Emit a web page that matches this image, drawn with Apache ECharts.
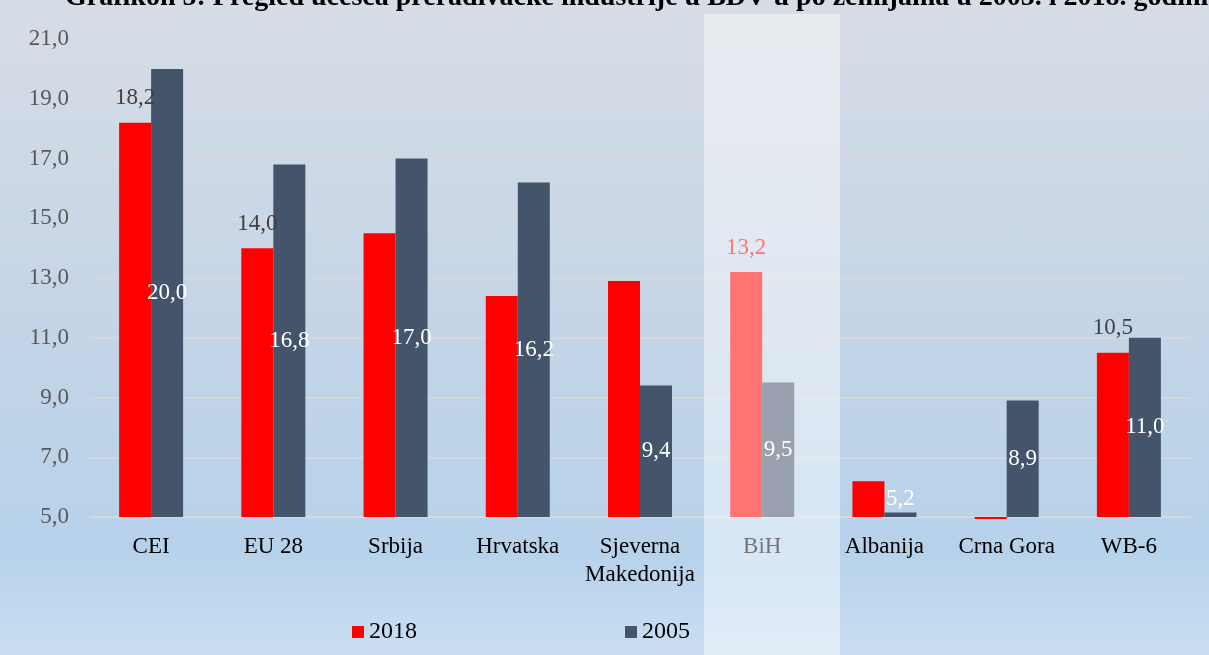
<!DOCTYPE html>
<html>
<head>
<meta charset="utf-8">
<script src="https://cdn.jsdelivr.net/npm/echarts@6/dist/echarts.min.js"></script>
<style>
  html, body { margin: 0; padding: 0; background: #fff; }
  #chart {
    width: 1209px; height: 655px;
    background: linear-gradient(to bottom, #d7dde6 0%, #c6d5e6 45%, #b6d2eb 84%, #cadef2 100%);
  }
</style>
</head>
<body>
<div id="chart"></div>
<script>
var titleText = 'Grafikon 5: Pregled učešća prerađivačke industrije u BDV-u po zemljama u 2005. i 2018. godini';
var categories = ['CEI', 'EU 28', 'Srbija', 'Hrvatska', 'Sjeverna\nMakedonija', 'BiH', 'Albanija', 'Crna Gora', 'WB-6'];
var values2018 = [18.2, 14.0, 14.5, 12.4, 12.9, 13.2, 6.2, 4.93, 10.5];
var values2005 = [20.0, 16.8, 17.0, 16.2, 9.4, 9.5, 5.15, 8.9, 11.0];
// which 2018 values carry a label above the bar
var labelled2018 = ['CEI', 'EU 28', 'BiH', 'WB-6'];

var serif = '"Liberation Serif", "Times New Roman", serif';

function fmt(v) {
    return v.toFixed(1).replace('.', ',');
}

var data2018 = values2018.map(function (v, i) {
    var cat = categories[i];
    var item = { value: v };
    if (labelled2018.indexOf(cat) >= 0) {
        item.label = {
            show: true,
            color: cat === 'BiH' ? '#ff0000' : '#404040'
        };
    }
    return item;
});

var data2005 = values2005.map(function (v, i) {
    var item = { value: v };
    if (categories[i] === 'Albanija') {
        item.label = { position: 'top', distance: 2 };
    }
    return item;
});

var chart = echarts.init(document.getElementById('chart'));
chart.setOption({
    backgroundColor: 'transparent',
    animation: false,
    textStyle: { fontFamily: serif },
    grid: { left: 90, right: 19, top: 39, bottom: 138 },
    legend: {
        left: 347,
        top: 615,
        itemWidth: 12,
        itemHeight: 12,
        itemGap: 208,
        icon: 'rect',
        textStyle: { fontFamily: serif, fontSize: 24, color: '#000' },
        data: ['2018', '2005']
    },
    xAxis: {
        type: 'category',
        data: categories,
        axisLine: { show: true, lineStyle: { color: '#d9d9d9', width: 1.5 } },
        axisTick: { show: false },
        axisLabel: {
            interval: 0,
            margin: 16,
            fontFamily: serif,
            fontSize: 23,
            lineHeight: 28,
            color: '#000'
        }
    },
    yAxis: {
        type: 'value',
        min: 5,
        max: 21,
        interval: 2,
        startValue: 5,
        axisLine: { show: false },
        axisTick: { show: false },
        splitLine: { lineStyle: { color: '#d9d9d9', width: 1.5 } },
        axisLabel: {
            margin: 21,
            fontFamily: serif,
            fontSize: 23,
            color: '#595959',
            formatter: function (v) { return fmt(v); }
        }
    },
    series: [
        {
            name: '2018',
            type: 'bar',
            barWidth: 32,
            barGap: '0%',
            clip: false,
            itemStyle: { color: '#ff0000' },
            label: {
                show: false,
                position: 'top',
                distance: 13,
                fontFamily: serif,
                fontSize: 23,
                formatter: function (p) { return fmt(p.value); }
            },
            data: data2018
        },
        {
            name: '2005',
            type: 'bar',
            barWidth: 32,
            barGap: '0%',
            itemStyle: { color: '#44546a' },
            label: {
                show: true,
                position: 'inside',
                color: '#fff',
                fontFamily: serif,
                fontSize: 23,
                formatter: function (p) { return fmt(p.value); }
            },
            data: data2005
        }
    ],
    graphic: [
        {
            type: 'text',
            x: 65,
            y: 12,
            z: 110,
            style: {
                text: titleText,
                font: 'bold 28px ' + serif,
                fill: '#000',
                verticalAlign: 'bottom'
            }
        },
        {
            // pale highlight over the BiH column
            type: 'rect',
            z: 100,
            shape: { x: 704, y: 14, width: 136, height: 641 },
            style: { fill: 'rgba(255,255,255,0.45)' }
        }
    ]
});
</script>
</body>
</html>
